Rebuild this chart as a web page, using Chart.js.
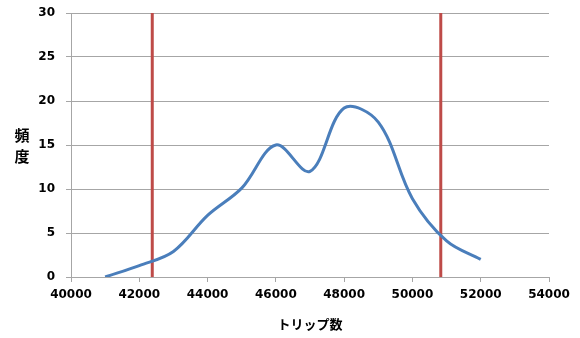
<!DOCTYPE html>
<html>
<head>
<meta charset="utf-8">
<script src="https://cdn.jsdelivr.net/npm/chart.js@4/dist/chart.umd.min.js"></script>
<style>
  html, body { margin: 0; padding: 0; background: #fff; }
  #wrap { width: 580px; height: 338px; position: relative; }
</style>
</head>
<body>
<div id="wrap"><canvas id="chart"></canvas></div>
<script>
// トリップ数ごとの頻度
const trips = [41000, 42000, 43000, 44000, 45000, 46000, 47000, 48000, 49000, 50000, 51000, 52000];
const freq  = [0, 1.3, 2.9, 7, 10.1, 15, 12, 19.2, 17.6, 8.9, 4.1, 2];

// 赤い縦線の位置
const lowerLine = 42380;
const upperLine = 50830;

const xTicks = [40000, 42000, 44000, 46000, 48000, 50000, 52000, 54000];
const yTicks = [0, 5, 10, 15, 20, 25, 30];

const FONT = 'DejaVu Sans';
const GRID = '#a6a6a6';

const vline = x => [{ x, y: yTicks[0] }, { x, y: yTicks[yTicks.length - 1] }];

// y軸タイトルを縦書きで描く
const yTitle = {
  id: 'yTitle',
  afterDraw(chart) {
    const c = chart.ctx;
    c.save();
    c.font = 'bold 15px "Noto Sans CJK JP"';
    c.fillStyle = '#000';
    c.textAlign = 'center';
    c.textBaseline = 'middle';
    c.fillText('頻', 22, 135);
    c.fillText('度', 22, 156);
    c.restore();
  }
};

new Chart(document.getElementById('chart').getContext('2d'), {
  type: 'line',
  data: {
    datasets: [
      {
        data: trips.map((t, i) => ({ x: t, y: freq[i] })),
        borderColor: '#4a7ebb', borderWidth: 3, tension: 0.35,
        pointRadius: 0, fill: false
      },
      { data: vline(lowerLine), borderColor: '#be4b48', borderWidth: 3, pointRadius: 0 },
      { data: vline(upperLine), borderColor: '#be4b48', borderWidth: 3, pointRadius: 0 },
    ]
  },
  options: {
    responsive: true,
    maintainAspectRatio: false,
    animation: false,
    layout: { padding: { top: 13, right: 31, left: 0, bottom: 6 } },
    plugins: { legend: { display: false }, tooltip: { enabled: false } },
    scales: {
      x: {
        type: 'linear', min: 40000, max: 54000,
        afterBuildTicks: s => { s.ticks = xTicks.map(v => ({ value: v })); },
        grid: { drawOnChartArea: false, drawTicks: true, tickLength: 5, color: GRID },
        border: { color: GRID },
        ticks: { color: '#000', font: { family: FONT, size: 12, weight: 'bold' }, padding: 6, maxRotation: 0, autoSkip: false, callback: v => String(v) },
        title: { display: true, text: 'トリップ数', color: '#000', font: { family: 'Noto Sans CJK JP', size: 13, weight: 'bold' }, padding: { top: 4, bottom: 0 } },
        afterFit: s => { s.height = 55; }
      },
      y: {
        min: 0, max: 30,
        afterBuildTicks: s => { s.ticks = yTicks.map(v => ({ value: v })); },
        grid: { color: GRID, tickLength: 5 },
        border: { color: GRID },
        ticks: { color: '#000', font: { family: FONT, size: 12, weight: 'bold' }, padding: 11, callback: v => String(v) },
        afterFit: s => { s.width = 71; s.paddingTop = 0; s.paddingBottom = 0; }
      }
    }
  },
  plugins: [yTitle]
});
</script>
</body>
</html>
